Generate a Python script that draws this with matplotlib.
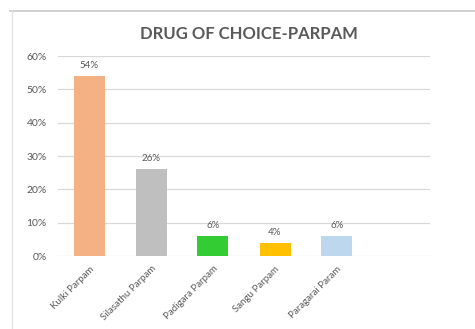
import matplotlib
matplotlib.use("Agg")
import matplotlib.pyplot as plt
import matplotlib.ticker as mticker
from matplotlib.lines import Line2D

categories = ["Kulki Parpam", "Silasathu Parpam", "Padigara Parpam", "Sangu Parpam", "Paragarai Param"]
shares = [54, 26, 6, 4, 6]
bar_colors = ["#F4B183", "#BFBFBF", "#33CC33", "#FFC000", "#BDD7EE"]
y_ticks = [0, 10, 20, 30, 40, 50, 60]

plt.rcParams["font.family"] = ["Lato", "DejaVu Sans"]
TXT = "#595959"

fig = plt.figure(figsize=(4.75, 3.29), dpi=100)
ax = fig.add_axes([58 / 475, 73 / 329, 372 / 475, 200 / 329])

x = range(len(categories))
bars = ax.bar(x, shares, width=0.5, color=bar_colors, zorder=3)
for bar, v in zip(bars, shares):
    ax.text(bar.get_x() + bar.get_width() / 2, v + 1.8, f"{v}%",
            ha="center", va="bottom", fontsize=7, color=TXT)

ax.set_xlim(-0.5, 5.5)
ax.set_ylim(0, 60)
ax.set_yticks(y_ticks)
ax.yaxis.set_major_formatter(mticker.FuncFormatter(lambda v, _: f"{v:.0f}%"))
ax.set_xticks(list(x))
ax.set_xticklabels(categories, rotation=45, ha="right", rotation_mode="anchor",
                   fontsize=7, color=TXT)
ax.tick_params(axis="both", length=0, labelcolor=TXT)
ax.tick_params(axis="y", pad=8, labelsize=7.5)
ax.tick_params(axis="x", pad=6)
ax.grid(axis="y", color="#D9D9D9", linewidth=0.9, zorder=0)
for s in ax.spines.values():
    s.set_visible(False)

fig.text(249 / 475, 1 - 34 / 329, "DRUG OF CHOICE-PARPAM", ha="center", va="center",
         fontsize=12, fontweight="bold", color=TXT)

# frame of the surrounding page
fig.add_artist(Line2D([10 / 475, 1], [1 - 11 / 329] * 2, color="#C8C8C8", lw=1.2))
fig.add_artist(Line2D([12 / 475] * 2, [0, 1 - 11 / 329], color="#E2E2E2", lw=1.0))

fig.savefig("out.png", dpi=100)
